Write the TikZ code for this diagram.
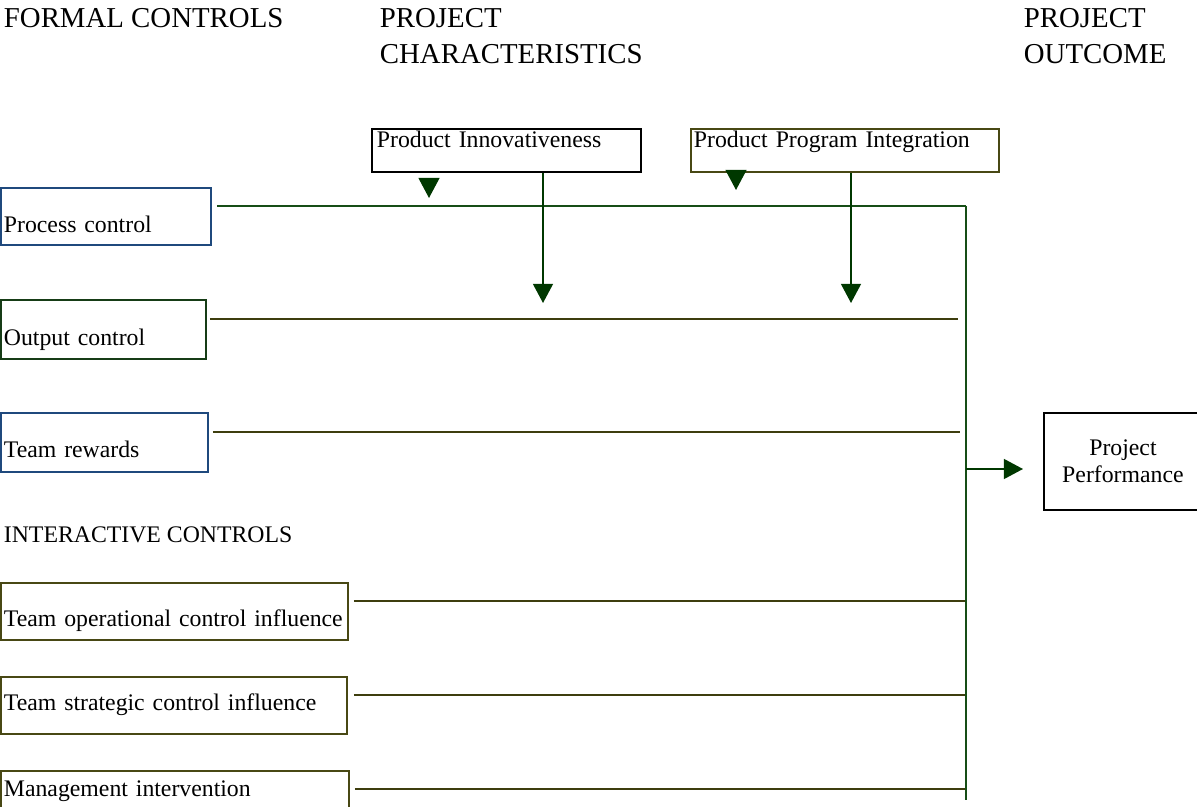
\documentclass[tikz,border=0pt]{standalone}
\usepackage{fontspec}
\setmainfont{Liberation Serif}
\usepackage{tikz}
\usetikzlibrary{arrows.meta}

\definecolor{arrgreen}{RGB}{0,56,0}
\definecolor{busgreen}{RGB}{22,78,22}
\definecolor{lineolive}{RGB}{62,62,14}
\definecolor{boxblue}{RGB}{31,73,125}
\definecolor{boxgreen}{RGB}{22,60,22}
\definecolor{boxolive}{RGB}{72,72,20}

\newcommand{\headfont}{\fontsize{20.5}{24.9}\selectfont}
\newcommand{\boxfont}{\fontsize{16.9}{19.2}\selectfont}

\begin{document}
\begin{tikzpicture}[
    x = 0.025cm, y = -0.025cm,
    line width = 1.3pt,
    head/.style = {anchor = north west, inner sep = 0pt, align = left, font = \headfont},
    ctrl/.style = {draw, rectangle, anchor = north west, inner ysep = 0pt,
      inner xsep = 0.075cm, align = left, font = \boxfont},
    link/.style = {draw = lineolive},
    mod/.style = {draw = arrgreen, -{Triangle[length=0.48cm, width=0.5cm]}},
    modhead/.style = {draw = arrgreen, -{Triangle[length=0.5cm, width=0.52cm]}}
  ]
  \useasboundingbox (0,0) rectangle (1197,807);

  % column headings
  \node[head] (formal) at (3,8) {FORMAL CONTROLS};
  \node[head] (charac) at (379,8) {PROJECT\\CHARACTERISTICS};
  \node[head] (outcome) at (1023,8) {PROJECT\\OUTCOME};
  \node[anchor = base west, inner sep = 0pt, font = \boxfont]
    (interactive) at (3,542) {INTERACTIVE CONTROLS};

  % moderators
  \node[ctrl, draw = black, inner xsep = 0.125cm, text width = 6.475cm,
    text height = 0.475cm, text depth = 0.6cm] (inno) at (371,128)
    {Product Innovativeness};
  \node[ctrl, draw = boxolive, text width = 7.55cm,
    text height = 0.475cm, text depth = 0.6cm] (ppi) at (690,128)
    {Product Program Integration};

  % formal controls
  \node[ctrl, draw = boxblue, text width = 5.1cm,
    text height = 1.125cm, text depth = 0.3cm] (proc) at (0,187) {Process control};
  \node[ctrl, draw = boxgreen, text width = 4.975cm,
    text height = 1.15cm, text depth = 0.325cm] (out) at (0,299) {Output control};
  \node[ctrl, draw = boxblue, text width = 5.025cm,
    text height = 1.125cm, text depth = 0.35cm] (rew) at (0,412) {Team rewards};

  % interactive controls
  \node[ctrl, draw = boxolive, text width = 8.525cm,
    text height = 1.1cm, text depth = 0.325cm] (oper) at (0,582)
    {Team operational control influence};
  \node[ctrl, draw = boxolive, text width = 8.5cm,
    text height = 0.85cm, text depth = 0.575cm] (strat) at (0,676)
    {Team strategic control influence};
  \node[ctrl, draw = boxolive, text width = 8.55cm,
    text height = 0.65cm, text depth = 0.95cm] (mgmt) at (0,770)
    {Management intervention};

  % outcome
  \node[draw, rectangle, anchor = north west, minimum width = 3.95cm,
    minimum height = 2.425cm, align = center, font = \boxfont] (perf) at (1043,412)
    {Project\\Performance};

  % bus and line ends
  \coordinate (bustop) at (966,206);
  \coordinate (busbot) at (966,800);
  \coordinate (outend) at (958,319);
  \coordinate (rewend) at (960,432);
  \coordinate (operend) at (966,601);
  \coordinate (stratend) at (966,695);
  \coordinate (mgmtend) at (966,789);
  \coordinate (perfout) at (966,469);
  \coordinate (perftip) at (1023,469);
  \coordinate (innotip) at (543,303);
  \coordinate (ppitip) at (851,303);
  \coordinate (innohead) at (429,198);
  \coordinate (ppihead) at (736,190);

  \draw[draw = busgreen] (proc.east |- bustop) ++(5,0) -- (bustop);
  \draw[link] (out.east |- outend) ++(3,0) -- (outend);
  \draw[link] (rew.east |- rewend) ++(4,0) -- (rewend);
  \draw[link] (oper.east |- operend) ++(5,0) -- (operend);
  \draw[link] (strat.east |- stratend) ++(6,0) -- (stratend);
  \draw[link] (mgmt.east |- mgmtend) ++(5,0) -- (mgmtend);
  \draw[draw = busgreen] (bustop) -- (busbot);

  % arrows
  \draw[mod] (perfout) -- (perftip);
  \draw[mod] (inno.south -| innotip) -- (innotip);
  \draw[mod] (ppi.south -| ppitip) -- (ppitip);
  \draw[modhead] (innohead |- inno.south) ++(0,6) -- (innohead);
  \draw[modhead] (ppihead |- ppi.south) -- (ppihead);

\end{tikzpicture}
\end{document}
